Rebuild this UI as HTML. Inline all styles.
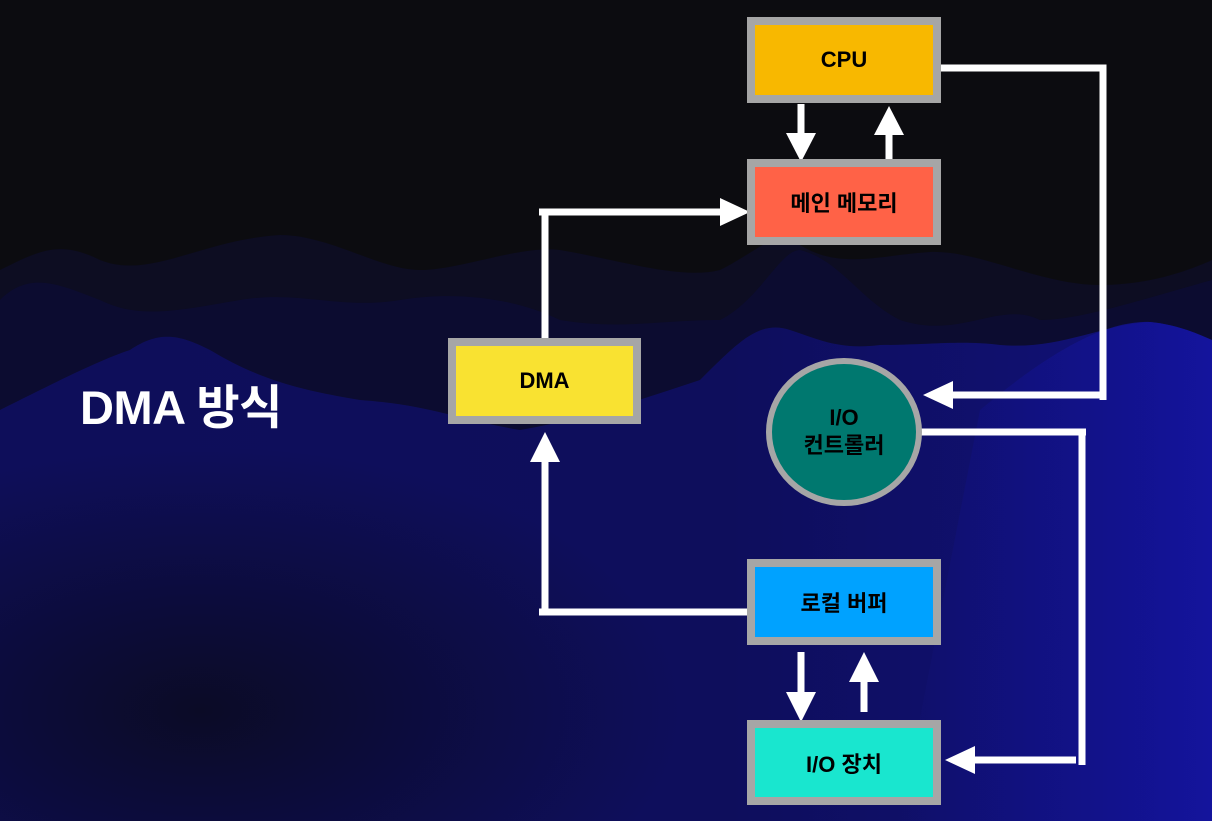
<!DOCTYPE html>
<html><head><meta charset="utf-8"><style>
html,body{margin:0;padding:0;}
body{width:1212px;height:821px;overflow:hidden;background:#0c0c10;position:relative;font-family:"Liberation Sans","Noto Sans CJK KR",sans-serif;}
svg{position:absolute;left:0;top:0;}
.box{position:absolute;box-sizing:border-box;border:8px solid #a6a6a6;display:flex;align-items:center;justify-content:center;font-weight:bold;font-size:22px;color:#000;}
</style></head><body>
<svg width="1212" height="821">
<defs>
<linearGradient id="gr" x1="0" y1="0" x2="1" y2="0"><stop offset="0" stop-color="#0e0e5a"/><stop offset="0.6" stop-color="#0e0e5c"/><stop offset="1" stop-color="#11117a"/></linearGradient>
<linearGradient id="br" x1="0" y1="0" x2="1" y2="0"><stop offset="0" stop-color="#12128c" stop-opacity="0"/><stop offset="0.5" stop-color="#12128c" stop-opacity="0.7"/><stop offset="1" stop-color="#1414a0" stop-opacity="0.9"/></linearGradient>
<radialGradient id="dk" cx="0.25" cy="0.75" r="0.6"><stop offset="0" stop-color="#0b0b26"/><stop offset="1" stop-color="#0b0b26" stop-opacity="0"/></radialGradient>
</defs>
<path d="M0 270 C40 250 60 240 100 260 C150 280 200 240 280 235 C330 235 380 270 420 270 C460 270 520 245 560 250 C620 260 680 280 720 270 C760 250 780 225 800 245 C840 270 880 255 930 252 C980 250 1040 285 1100 285 C1150 285 1190 270 1212 260 L1212 821 L0 821Z" fill="#0d0d22"/>
<path d="M0 300 C30 270 60 285 100 300 C140 320 180 310 240 300 C300 290 340 310 400 300 C460 290 520 300 560 320 C620 330 660 320 720 320 C760 300 780 250 800 250 C840 260 860 300 900 320 C960 340 1000 300 1040 320 C1080 320 1140 300 1212 280 L1212 821 L0 821Z" fill="#0c0c30"/>
<path d="M0 410 C60 380 100 360 130 350 C160 330 180 335 210 350 C260 380 300 390 360 400 C430 405 460 420 520 430 C580 420 640 400 700 380 C740 340 760 320 790 330 C820 340 840 350 880 345 C930 345 960 340 1000 345 C1060 350 1100 325 1150 322 C1180 325 1200 335 1212 340 L1212 821 L0 821Z" fill="url(#gr)"/>
<path d="M980 410 C1040 360 1100 320 1150 322 C1180 325 1200 335 1212 340 L1212 821 L900 821Z" fill="url(#br)"/>
<rect x="0" y="380" width="800" height="441" fill="url(#dk)"/>
<g stroke="#fff" stroke-width="7" fill="none">
<polyline points="941,68 1103,68 1103,400"/>
<line x1="1100" y1="395" x2="950" y2="395"/>
<line x1="801" y1="104" x2="801" y2="136"/>
<line x1="889" y1="133" x2="889" y2="163"/>
<polyline points="545,345 545,212 722,212"/>
<line x1="539" y1="212" x2="548" y2="212"/>
<polyline points="918,432 1082,432 1082,765"/>
<line x1="1086" y1="432" x2="1076" y2="432"/>
<line x1="1076" y1="760" x2="972" y2="760"/>
<polyline points="748,612 545,612 545,460"/>
<line x1="539" y1="612" x2="548" y2="612"/>
<line x1="801" y1="652" x2="801" y2="695"/>
<line x1="864" y1="680" x2="864" y2="712"/>
</g>
<g fill="#fff">
<polygon points="923,395 953,381 953,409"/>
<polygon points="786,133 816,133 801,162"/>
<polygon points="874,135 904,135 889,106"/>
<polygon points="750,212 720,198 720,226"/>
<polygon points="945,760 975,746 975,774"/>
<polygon points="545,432 530,462 560,462"/>
<polygon points="786,692 816,692 801,722"/>
<polygon points="849,682 879,682 864,652"/>
</g>
<ellipse cx="844" cy="432" rx="75" ry="71" fill="#00786f" stroke="#a6a6a6" stroke-width="6"/>
<text x="844" y="425" text-anchor="middle" font-family="Liberation Sans,Noto Sans CJK KR,sans-serif" font-weight="bold" font-size="22" fill="#000">I/O</text>
<text x="844" y="453" text-anchor="middle" font-family="Liberation Sans,Noto Sans CJK KR,sans-serif" font-weight="bold" font-size="22" fill="#000">컨트롤러</text>
</svg>
<div class="box" style="left:747px;top:17px;width:194px;height:86px;background:#f8b800;">CPU</div>
<div class="box" style="left:747px;top:159px;width:194px;height:86px;background:#ff6247;">메인 메모리</div>
<div class="box" style="left:448px;top:338px;width:193px;height:86px;background:#f9e231;">DMA</div>
<div class="box" style="left:747px;top:559px;width:194px;height:86px;background:#00a2ff;">로컬 버퍼</div>
<div class="box" style="left:747px;top:720px;width:194px;height:85px;background:#19e6cf;">I/O 장치</div>
<div style="position:absolute;left:80px;top:380px;color:#fff;font-weight:bold;font-size:47px;line-height:56px;letter-spacing:-0.5px;">DMA 방식</div>
</body></html>
